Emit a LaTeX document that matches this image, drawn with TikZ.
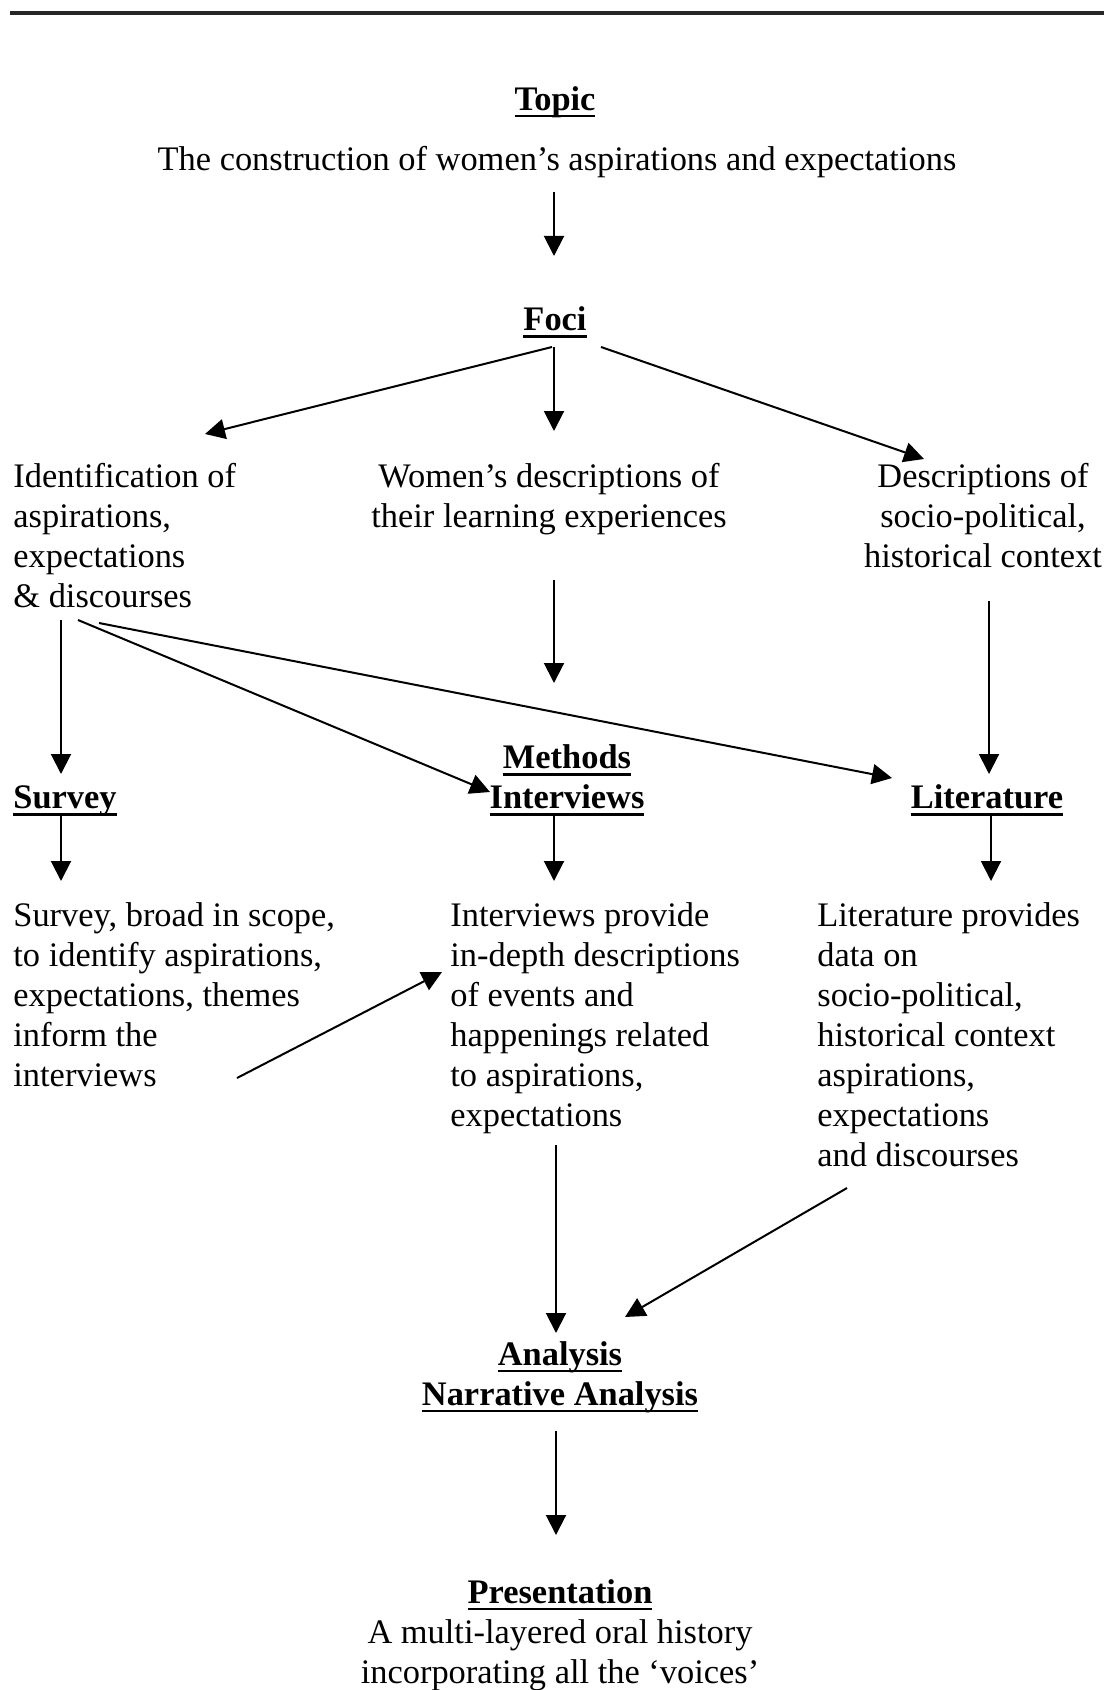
\documentclass[tikz,border=0pt]{standalone}
\usepackage{fontspec}
\setmainfont{Liberation Serif}
\usepackage{tikz}
\usetikzlibrary{arrows.meta,calc}

% bold heading with a heavy rule under it
\newcommand{\headul}[1]{\setbox0\hbox{\bfseries #1}\rlap{\vrule height -2.2pt depth 3.6pt width \wd0}\box0}

\begin{document}
\begin{tikzpicture}[
  x=0.5pt, y=-0.5pt,
  font=\fontsize{17.2pt}{20pt}\selectfont,
  txt/.style={inner sep=0pt,align=center},
  ltxt/.style={inner sep=0pt,align=left,anchor=west},
  arr/.style={-{Triangle[length=10pt,width=10pt]},line width=1pt}
]
  \useasboundingbox (0,0) rectangle (1113,1690);
  \draw[line width=1.8pt,black!85] (10,13) -- (1104,13);

  \node[txt] (topic) at (555,102) {\headul{Topic}};
  \node[txt] (topictxt) at (557,162) {The construction of women’s aspirations and expectations};
  \node[txt] (foci) at (555,322) {\headul{Foci}};
  \node[ltxt] (ident) at (13,536) {Identification of\\aspirations,\\expectations\\\& discourses};
  \node[txt] (women) at (549,499) {Women’s descriptions of\\their learning experiences};
  \node[txt] (context) at (983,516) {Descriptions of\\socio-political,\\historical context};
  \node[txt] (methods) at (567,780) {\headul{Methods}\\\headul{Interviews}};
  \node[ltxt] (survey) at (13,801) {\headul{Survey}};
  \node[txt] (lithead) at (987,800) {\headul{Literature}};
  \node[ltxt] (surveytxt) at (13,995) {Survey, broad in scope,\\to identify aspirations,\\expectations, themes\\inform the\\interviews};
  \node[ltxt] (intervtxt) at (450,1018) {Interviews provide\\in-depth descriptions\\of events and\\happenings related\\to aspirations,\\expectations};
  \node[ltxt] (littxt) at (817,1035) {Literature provides\\data on\\socio-political,\\historical context\\aspirations,\\expectations\\and discourses};
  \node[txt] (analysis) at (560,1377) {\headul{Analysis}\\\headul{Narrative Analysis}};
  \node[txt] (present) at (560,1635) {\headul{Presentation}\\A multi-layered oral history\\incorporating all the ‘voices’};

  % topic and foci
  \draw[arr] ($(topictxt.center)+(-3,30)$) -- ($(foci.center)+(-1,-66)$);
  \draw[arr] ($(foci.center)+(-3,25)$) -- ($(ident.west)+(192,-102)$);
  \draw[arr] ($(foci.center)+(-1,25)$) -- ($(women.center)+(5,-68)$);
  \draw[arr] ($(foci.center)+(46,25)$) -- ($(context.center)+(-59,-57)$);
  % foci to methods
  \draw[arr] ($(ident.west)+(48,84)$) -- ($(survey.west)+(48,-27)$);
  \draw[arr] ($(ident.west)+(65,84)$) -- ($(methods.center)+(-77,12)$);
  \draw[arr] ($(ident.west)+(86,87)$) -- ($(lithead.center)+(-95,-22)$);
  \draw[arr] ($(women.center)+(5,81)$) -- ($(methods.center)+(-13,-97)$);
  \draw[arr] ($(context.center)+(6,85)$) -- ($(lithead.center)+(2,-26)$);
  % methods to data
  \draw[arr] ($(survey.west)+(48,15)$) -- ($(surveytxt.west)+(48,-114)$);
  \draw[arr] ($(methods.center)+(-13,36)$) -- ($(intervtxt.west)+(104,-137)$);
  \draw[arr] ($(lithead.center)+(4,16)$) -- ($(littxt.west)+(174,-154)$);
  \draw[arr] ($(surveytxt.west)+(224,83)$) -- ($(intervtxt.west)+(-8,-46)$);
  % analysis and presentation
  \draw[arr] ($(intervtxt.west)+(106,127)$) -- ($(analysis.center)+(-4,-44)$);
  \draw[arr] ($(littxt.west)+(30,153)$) -- ($(analysis.center)+(65,-60)$);
  \draw[arr] ($(analysis.center)+(-4,54)$) -- ($(present.center)+(-4,-100)$);
\end{tikzpicture}
\end{document}
